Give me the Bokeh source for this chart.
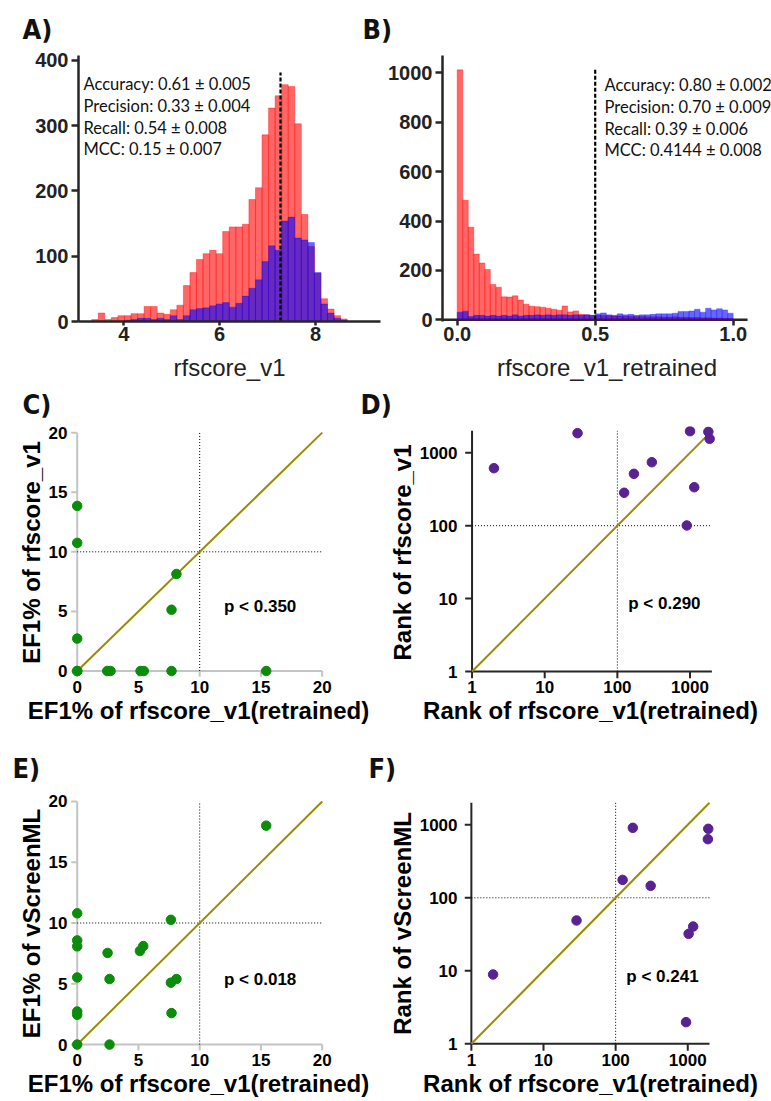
import numpy as np
from bokeh.plotting import figure
from bokeh.layouts import column, row
from bokeh.models import Label, Range1d, FixedTicker, PrintfTickFormatter
from bokeh.core.properties import value
from bokeh.embed import file_html
from bokeh.resources import INLINE

# ---------------- data ----------------
# A) rfscore_v1 score histograms: decoys (red) and actives (blue)
a_bin_start = 3.33
a_bin_width = 0.1367
a_decoy_counts = [3, 13, 3, 6, 9, 9, 12, 12, 23, 23, 13, 11, 18, 25, 55, 75, 95, 104, 109, 104,
                  138, 145, 145, 149, 187, 205, 286, 327, 346, 363, 360, 303, 164, 115, 74, 35, 19, 9, 4]
a_active_counts = [0, 0, 0, 0, 0, 2, 3, 5, 5, 3, 5, 3, 9, 3, 9, 18, 20, 21, 24, 27,
                   29, 22, 28, 39, 51, 64, 92, 116, 109, 154, 160, 128, 125, 121, 75, 27, 13, 5, 2]
a_threshold = 7.27
a_xticks = [4, 6, 8]
a_yticks = [0, 100, 200, 300, 400]
a_metrics = ["Accuracy: 0.61 \u00b1 0.005", "Precision: 0.33 \u00b1 0.004",
             "Recall: 0.54 \u00b1 0.008", "MCC: 0.15 \u00b1 0.007"]

# B) rfscore_v1_retrained score histograms
b_bin_start = 0.0
b_bin_width = 0.02
b_decoy_counts = [1012, 484, 375, 266, 230, 204, 143, 132, 93, 92, 97, 80, 63, 55, 53, 51, 47, 43, 39, 56,
                  32, 36, 22, 20, 18, 18, 17, 16, 15, 15, 14, 14, 13, 13, 12, 12, 12, 11, 11, 12,
                  10, 10, 9, 9, 8, 8, 7, 7, 6, 5]
b_active_counts = [31, 35, 13, 18, 18, 15, 18, 15, 18, 15, 20, 15, 18, 18, 20, 18, 20, 18, 20, 20,
                   18, 20, 18, 20, 18, 24, 28, 20, 18, 24, 20, 22, 18, 20, 20, 22, 24, 24, 24, 27,
                   34, 34, 36, 43, 31, 47, 40, 45, 40, 27]
b_threshold = 0.5
b_xlim = [-0.053, 1.052]
b_xticks = [0.0, 0.5, 1.0]
b_yticks = [0, 200, 400, 600, 800, 1000]
b_metrics = ["Accuracy: 0.80 \u00b1 0.002", "Precision: 0.70 \u00b1 0.009",
             "Recall: 0.39 \u00b1 0.006", "MCC: 0.4144 \u00b1 0.008"]

# C) EF1%: rfscore_v1(retrained) vs rfscore_v1
c_x = [0, 0, 0, 0, 0, 2.45, 2.72, 5.17, 5.44, 7.7, 7.7, 8.1, 15.43]
c_y = [13.85, 10.75, 2.72, 0, 0, 0, 0, 0, 0, 0, 5.14, 8.14, 0]
c_p = "p < 0.350"

# D) Rank: rfscore_v1(retrained) vs rfscore_v1
d_x = [2.0, 28.3, 124, 169, 298, 902, 1000, 1143, 1787, 1862]
d_y = [615, 1858, 283, 515, 743, 100.7, 1979, 337, 1941, 1556]
d_p = "p < 0.290"

# E) EF1%: rfscore_v1(retrained) vs vScreenML
e_x = [0, 0, 0, 0, 0, 0, 0, 2.48, 2.64, 2.64, 5.12, 5.39, 7.65, 7.65, 8.1, 7.7, 15.43]
e_y = [10.8, 8.57, 8.08, 5.52, 2.72, 2.45, 0, 7.54, 5.39, 0, 7.7, 8.1, 10.26, 5.09, 5.39, 2.59, 18.01]
e_p = "p < 0.018"

# F) Rank: rfscore_v1(retrained) vs vScreenML
f_x = [2.0, 28.7, 125, 173, 306, 946, 1028, 1188, 1900, 1923]
f_y = [8.9, 48.9, 176, 909, 146, 1.98, 32.1, 40.4, 635, 881]
f_p = "p < 0.241"

ef_ticks = [0, 5, 10, 15, 20]
ef_lim = [0, 20]
ef_cut = 10
rank_ticks = [1, 10, 100, 1000]
rank_lim = [1, 2000]
rank_cut = 100

panel_letters = ["A)", "B)", "C)", "D)", "E)", "F)"]

# ---------------- styling ----------------
RED, BLUE = "#ff0000", "#0000ff"
GREEN, PURPLE, OLIVE = "#0b8c0b", "#5a2192", "#9a8c00"
GRAY_AX, DARK_AX = "#c4c4c4", "#262626"
ARIAL = "Liberation Sans"
NARROW = "'Liberation Sans Narrow', 'DejaVu Sans Condensed', 'Liberation Sans', sans-serif"
TOTAL_W = 771


def conv(p, cal, log):
    (v1, p1), (v2, p2) = cal
    if log:
        return float(10 ** (np.log10(v1) + (p - p1) * (np.log10(v2) - np.log10(v1)) / (p2 - p1)))
    return float(v1 + (p - p1) * (v2 - v1) / (p2 - p1))


def panel(origin, size, frame, xcal, ycal, xlog=False, ylog=False):
    ox, oy = origin
    W, H = size
    L, R, T, B = frame
    tx = lambda p: conv(p, xcal, xlog)
    ty = lambda p: conv(p, ycal, ylog)
    fig = figure(width=W, height=H,
                 x_range=Range1d(tx(L), tx(R)), y_range=Range1d(ty(B), ty(T)),
                 x_axis_type="log" if xlog else "linear",
                 y_axis_type="log" if ylog else "linear",
                 min_border_left=L - ox, min_border_right=ox + W - R,
                 min_border_top=T - oy, min_border_bottom=oy + H - B,
                 output_backend="svg", toolbar_location=None)
    fig.grid.visible = False
    fig.outline_line_color = None
    fig.axis.minor_tick_line_color = None
    return fig, tx, ty


def strip(y0, y1, letters, xs, tops, size="27px"):
    h = y1 - y0
    s = figure(width=TOTAL_W, height=h, x_range=Range1d(0, TOTAL_W), y_range=Range1d(h, 0),
               x_axis_location=None, y_axis_location=None, min_border=0,
               output_backend="svg", toolbar_location=None)
    s.grid.visible = False
    s.outline_line_color = None
    s.text(x=xs, y=[t - y0 for t in tops], text=letters, text_font=value(NARROW),
           text_font_style="bold", text_font_size=value(size), text_baseline="top",
           text_color="#111111")
    return s


def hist_style(fig, xticks, yticks, xlabel):
    fig.xaxis.ticker = FixedTicker(ticks=xticks)
    fig.yaxis.ticker = FixedTicker(ticks=yticks)
    fig.axis.axis_line_color = DARK_AX
    fig.axis.axis_line_width = 2.5
    fig.axis.major_tick_line_color = DARK_AX
    fig.axis.major_tick_line_width = 2.5
    fig.axis.major_tick_in = 0
    fig.xaxis.major_tick_out = 4
    fig.yaxis.major_tick_out = 7
    fig.axis.major_label_text_font = ARIAL
    fig.axis.major_label_text_font_style = "bold"
    fig.axis.major_label_text_font_size = "20px"
    fig.axis.major_label_text_color = "#222222"
    fig.xaxis.major_label_standoff = 1
    fig.yaxis.major_label_standoff = 3
    fig.xaxis.axis_label = xlabel
    fig.xaxis.axis_label_text_font = ARIAL
    fig.xaxis.axis_label_text_font_style = "normal"
    fig.xaxis.axis_label_text_font_size = "24px"
    fig.xaxis.axis_label_text_color = "#222222"
    fig.xaxis.axis_label_standoff = 10


def draw_hist(fig, start, width, neg, pos, thr, thr_top, metrics, mx, my, tx, ty):
    edges = start + width * np.arange(len(neg) + 1)
    fig.quad(left=edges[:-1], right=edges[1:], bottom=0, top=neg,
             fill_color=RED, fill_alpha=0.6, line_color=RED, line_alpha=0.45, line_width=0.8)
    edges_p = start + width * np.arange(len(pos) + 1)
    fig.quad(left=edges_p[:-1], right=edges_p[1:], bottom=0, top=pos,
             fill_color=BLUE, fill_alpha=0.6, line_color=BLUE, line_alpha=0.35, line_width=0.8)
    fig.segment(x0=[thr], y0=[0], x1=[thr], y1=[thr_top], line_color="black",
                line_width=2.2, line_dash="4 2")
    for txt, yy in zip(metrics, my):
        fig.add_layout(Label(x=tx(mx), y=ty(yy), text=txt, text_font="Lato",
                             text_font_size="16.5px", text_baseline="middle", text_color="#111111"))


def scatter_style(fig, ticks, xlabel, ylabel, x_std, y_std):
    fig.xaxis.ticker = FixedTicker(ticks=ticks)
    fig.yaxis.ticker = FixedTicker(ticks=ticks)
    fig.axis.axis_line_color = None
    fig.axis.major_tick_line_color = None
    fig.axis.major_tick_in = 0
    fig.axis.major_tick_out = 0
    fig.axis.major_label_text_font = ARIAL
    fig.axis.major_label_text_font_style = "bold"
    fig.axis.major_label_text_font_size = "17px"
    fig.axis.major_label_text_color = "black"
    fig.xaxis.major_label_standoff = x_std
    fig.yaxis.major_label_standoff = y_std
    fig.axis.axis_label_text_font = ARIAL
    fig.axis.axis_label_text_font_style = "bold"
    fig.axis.axis_label_text_font_size = "24px"
    fig.axis.axis_label_text_color = "black"
    fig.axis.axis_label_standoff = 1
    fig.xaxis.axis_label = xlabel
    fig.yaxis.axis_label = ylabel


def draw_scatter(fig, xs, ys, lim, ticks, cut, color, axis_color, tick_x, tick_y, ptxt, ptx, pty):
    lo, hi = lim
    # axis lines and outward ticks
    fig.segment(x0=[lo, lo], y0=[lo, lo], x1=[hi, lo], y1=[lo, hi], line_color=axis_color, line_width=2)
    fig.segment(x0=ticks, y0=[lo] * len(ticks), x1=ticks, y1=[tick_y] * len(ticks),
                line_color=axis_color, line_width=2)
    fig.segment(x0=[lo] * len(ticks), y0=ticks, x1=[tick_x] * len(ticks), y1=ticks,
                line_color=axis_color, line_width=2)
    fig.segment(x0=[cut, lo], y0=[lo, cut], x1=[cut, hi], y1=[hi, cut], line_color="black",
                line_width=1, line_dash="1 2")
    fig.line(lim, lim, line_color=OLIVE, line_width=2)
    fig.scatter(xs, ys, size=9.5, fill_color=color, line_color=color)
    fig.add_layout(Label(x=ptx, y=pty, text=ptxt, text_font=ARIAL, text_font_style="bold",
                         text_font_size="17px", text_baseline="middle", text_color="black"))


# ---------------- letter strips ----------------
s1 = strip(0, 47, panel_letters[0:2], [22, 362], [13, 13])
s2 = strip(388, 421, panel_letters[2:4], [22, 360], [388, 388])
s3 = strip(750, 786, panel_letters[4:6], [12, 368], [752, 752])

# ---------------- panel A ----------------
pa, ax, ay = panel((0, 47), (385, 341), (78, 380, 55, 322), [(4, 123.3), (8, 315)], [(0, 322), (400, 60)])
hist_style(pa, a_xticks, a_yticks, "rfscore_v1")
draw_hist(pa, a_bin_start, a_bin_width, a_decoy_counts, a_active_counts, a_threshold, ay(72),
          a_metrics, 83, [84, 106, 128, 149], ax, ay)

# ---------------- panel B ----------------
pb, bx, by = panel((385, 47), (386, 341), (442, 771, 55, 321), [(0, 456.7), (1, 732.7)], [(0, 319.3), (1000, 72.3)])
hist_style(pb, b_xticks, b_yticks, "rfscore_v1_retrained")
pb.xaxis.axis_line_color = None
pb.xaxis.major_tick_in = 2
pb.xaxis.major_tick_out = 4
pb.xaxis.major_label_overrides = {0: "0.0", 0.5: "0.5", 1: "1.0"}
pb.line(b_xlim, [0, 0], line_color=DARK_AX, line_width=2.5)
draw_hist(pb, b_bin_start, b_bin_width, b_decoy_counts, b_active_counts, b_threshold, by(69),
          b_metrics, 604, [84, 106, 128, 149], bx, by)

# ---------------- panel C ----------------
pc, cx, cy = panel((0, 421), (385, 329), (69, 327, 421, 680), [(0, 76.7), (20, 321.7)], [(0, 672.3), (20, 427.3)])
scatter_style(pc, ef_ticks, "EF1% of rfscore_v1(retrained)", "EF1% of rfscore_v1", 2, 2)
draw_scatter(pc, c_x, c_y, ef_lim, ef_ticks, ef_cut, GREEN, GRAY_AX, cx(70.7), cy(678.3),
             c_p, cx(223.5), cy(606))

# ---------------- panel D ----------------
pd_, dx, dy = panel((385, 421), (386, 329), (459, 716, 426, 678), [(1, 466.7), (1000, 689)], [(1, 671), (1000, 452.3)],
                    xlog=True, ylog=True)
scatter_style(pd_, rank_ticks, "Rank of rfscore_v1(retrained)", "Rank of rfscore_v1", 2, 7)
pd_.axis.formatter = PrintfTickFormatter(format="%d")
draw_scatter(pd_, d_x, d_y, rank_lim, rank_ticks, rank_cut, PURPLE, DARK_AX, dx(459.7), dy(678),
             d_p, dx(626), dy(603))

# ---------------- panel E ----------------
pe, ex, ey = panel((0, 786), (385, 314), (69, 327, 794, 1052), [(0, 76.7), (20, 321.7)], [(0, 1045), (20, 800)])
scatter_style(pe, ef_ticks, "EF1% of rfscore_v1(retrained)", "EF1% of vScreenML", 2, 2)
draw_scatter(pe, e_x, e_y, ef_lim, ef_ticks, ef_cut, GREEN, GRAY_AX, ex(70.7), ey(1051),
             e_p, ex(223.5), ey(979))

# ---------------- panel F ----------------
pf, fx, fy = panel((385, 786), (386, 314), (459, 716, 795, 1051), [(1, 466), (1000, 686.7)], [(1, 1043.3), (1000, 824.3)],
                   xlog=True, ylog=True)
scatter_style(pf, rank_ticks, "Rank of rfscore_v1(retrained)", "Rank of vScreenML", 2, 7)
pf.axis.formatter = PrintfTickFormatter(format="%d")
draw_scatter(pf, f_x, f_y, rank_lim, rank_ticks, rank_cut, PURPLE, DARK_AX, fx(459), fy(1050.3),
             f_p, fx(624), fy(976))

layout = column(s1, row(pa, pb), s2, row(pc, pd_), s3, row(pe, pf))
open("out.html", "w").write(file_html(layout, INLINE))
